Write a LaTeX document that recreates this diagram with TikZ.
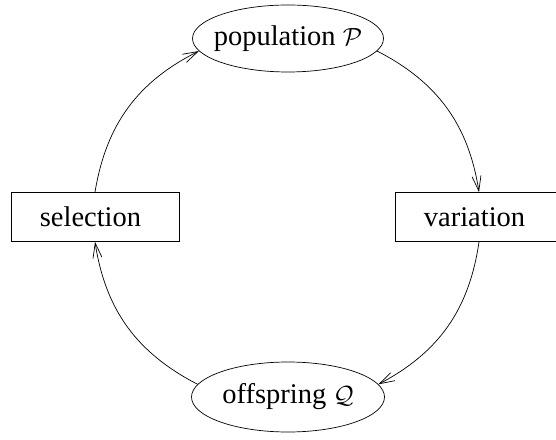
\documentclass[tikz,border=0pt]{standalone}
\usepackage{fontspec}
\setmainfont{Liberation Serif}
\usetikzlibrary{shapes.geometric,arrows.meta}
\begin{document}
\begin{tikzpicture}[x=1pt,y=1pt,
  every node/.style={font=\fontsize{28.5}{34}\selectfont, line width=0.7pt, inner sep=0pt},
  oval/.style={draw, ellipse},
  boxnode/.style={draw, rectangle, minimum width=168, minimum height=49},
  arr/.style={line width=0.7pt, -{Straight Barb[length=15pt,width=9pt,line width=0.7pt]}}]
\useasboundingbox (0,0) rectangle (556,439);
\node[oval, minimum width=191, minimum height=67] (pop) at (288,400.5) {};
\node (poptext) at (pop.center) {population $\mathcal{P}$};
\node[oval, minimum width=193, minimum height=70] (off) at (288,42) {};
\node (offtext) at (off.center) {offspring $\mathcal{Q}$};
\node[boxnode] (sel) at (95,222) {selection\kern9pt\null};
\node[boxnode] (var) at (479,222) {variation\kern9pt\null};
\draw[arr] (pop.-8) to[bend left=27] (var.north);
\draw[arr] (var.south) to[bend left=27] (off.8);
\draw[arr] (off.172) to[bend left=27] (sel.south);
\draw[arr] (sel.north) to[bend left=27] (pop.188);
\end{tikzpicture}
\end{document}
